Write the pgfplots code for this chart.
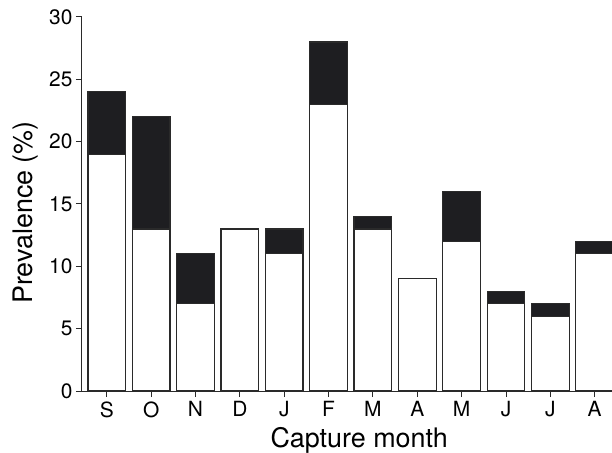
\documentclass[border=0pt]{standalone}
\usepackage{pgfplots}
\pgfplotsset{compat=1.18}
\usepackage{fontspec}
\setmainfont{TeX Gyre Heros}
\definecolor{darkbar}{HTML}{1E1E21}
\definecolor{edge}{HTML}{2A2A2A}
\begin{document}
\begin{tikzpicture}
\begin{axis}[
  scale only axis, width=530bp, height=374bp,
  xmin=-0.56, xmax=11.39, ymin=0, ymax=30,
  ybar stacked, bar width=0.85,
  axis x line*=bottom, axis y line*=left,
  axis line style={-, line width=1bp, color=edge},
  xtick={0,...,11},
  xticklabels={S,O,N,D,J,F,M,A,M,J,J,A},
  ytick={0,5,...,30},
  tick align=outside, major tick length=6bp,
  tick style={line width=1bp, color=edge},
  /pgf/number format/assume math mode=true,
  ticklabel style={font=\fontsize{21}{21}\selectfont},
  xticklabel style={yshift=-1bp},
  xlabel={Capture month},
  ylabel={Prevalence (\%)},
  label style={font=\fontsize{27}{27}\selectfont},
  xlabel style={at={(axis description cs:0.523,-0.150)}, anchor=base},
  ylabel style={at={(axis description cs:-0.0925,0.477)}, anchor=base},
]
\addplot+[fill=white, draw=edge, line width=1.2bp] coordinates {
  (0,19) (1,13) (2,7) (3,13) (4,11) (5,23) (6,13) (7,9) (8,12) (9,7) (10,6) (11,11)};
\addplot+[fill=darkbar, draw=edge, line width=1.2bp] coordinates {
  (0,5) (1,9) (2,4) (3,0) (4,2) (5,5) (6,1) (7,0) (8,4) (9,1) (10,1) (11,1)};
\coordinate (bl) at (rel axis cs:0,0);
\coordinate (tr) at (rel axis cs:1,1);
\end{axis}
\pgfresetboundingbox
\path ([shift={(-82bp,-62bp)}]bl) rectangle ([shift={(0bp,17bp)}]tr);
\end{tikzpicture}
\end{document}
